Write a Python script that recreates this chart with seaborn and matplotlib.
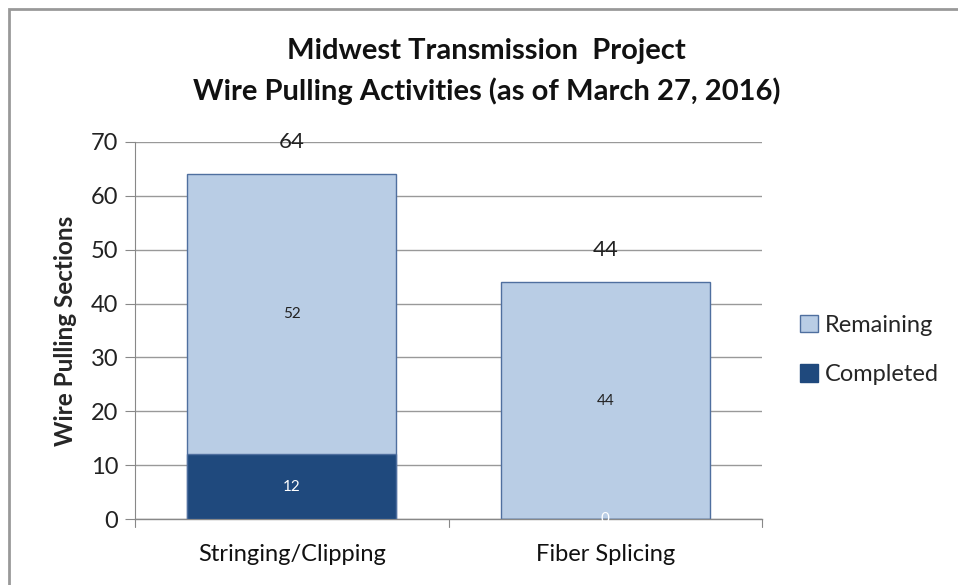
import matplotlib
matplotlib.use("Agg")
import matplotlib.pyplot as plt
import seaborn as sns
import pandas as pd
from matplotlib.patches import Rectangle, Patch

categories = ["Stringing/Clipping", "Fiber Splicing"]
completed = [12, 0]
remaining = [52, 44]
totals = [c + r for c, r in zip(completed, remaining)]
yticks = [0, 10, 20, 30, 40, 50, 60, 70]

df = pd.DataFrame({"Activity": categories, "Completed": completed,
                   "Remaining": remaining, "Total": totals})

sns.set_theme(style="white")
plt.rcParams["font.family"] = ["Lato", "DejaVu Sans"]

light = "#B9CDE5"
dark = "#1F497D"
edge = "#4F6F9F"

fig = plt.figure(figsize=(9.58, 5.85), dpi=100)
ax = fig.add_axes([135 / 958, 1 - 519 / 585, (762 - 135) / 958, (519 - 142) / 585])

sns.barplot(data=df, x="Activity", y="Total", color=light, width=0.667,
            edgecolor=edge, linewidth=1.0, ax=ax, saturation=1, zorder=2)
sns.barplot(data=df, x="Activity", y="Completed", color=dark, width=0.667,
            edgecolor=edge, linewidth=1.0, ax=ax, saturation=1, zorder=3)

ax.set_ylim(0, 70)
ax.set_xlim(-0.5, 1.5)
ax.set_yticks(yticks)
ax.set_yticklabels([str(t) for t in yticks], fontsize=17, color="#222222")
ax.tick_params(axis="y", length=7, width=0.8, color="#888888", direction="out", pad=5, left=True)
ax.set_xticks([0, 1])
ax.set_xticklabels(categories, fontsize=17, color="#111111")
ax.tick_params(axis="x", length=0, pad=18)
for xb in [-0.5, 0.5, 1.5]:
    ax.plot([xb, xb], [0, -1.5], color="#888888", lw=0.8, clip_on=False, zorder=1)

ax.yaxis.grid(True, color="#999999", lw=1.0, zorder=0)
ax.set_axisbelow(True)
for s in ["top", "right"]:
    ax.spines[s].set_visible(False)
ax.spines["left"].set_color("#888888")
ax.spines["bottom"].set_color("#888888")
ax.spines["left"].set_linewidth(0.8)
ax.spines["bottom"].set_linewidth(1.0)

ax.set_xlabel("")
ax.set_ylabel("Wire Pulling Sections", fontsize=17.5, fontweight="bold", labelpad=10)

for i in range(len(categories)):
    ax.text(i, totals[i] + 6, str(totals[i]), ha="center", va="center", fontsize=16, color="#222222", zorder=5)
    ax.text(i, completed[i] + remaining[i] / 2, str(remaining[i]), ha="center", va="center",
            fontsize=11, color="#222222", zorder=5)
    ax.text(i, completed[i] / 2, str(completed[i]), ha="center", va="center",
            fontsize=11, color="white", zorder=5)

fig.text(0.508, 1 - 51 / 585, "Midwest Transmission  Project", ha="center", va="center",
         fontsize=21, fontweight="bold", color="#111111")
fig.text(0.508, 1 - 91 / 585, "Wire Pulling Activities (as of March 27, 2016)", ha="center",
         va="center", fontsize=21, fontweight="bold", color="#111111")

handles = [Patch(facecolor=light, edgecolor=edge, label="Remaining"),
           Patch(facecolor=dark, edgecolor=dark, label="Completed")]
fig.legend(handles=handles, loc="center left", bbox_to_anchor=(788 / 958, 1 - 350 / 585),
           frameon=False, fontsize=17, handlelength=0.75, handleheight=0.75,
           handletextpad=0.3, labelspacing=1.2, borderpad=0)

fig.patches.append(Rectangle((8.5 / 958, -0.01), 1.0, 1 - 8.5 / 585 + 0.01,
                             transform=fig.transFigure, fill=False,
                             edgecolor="#999999", lw=2.0, zorder=0))

fig.savefig("out.png", dpi=100)
